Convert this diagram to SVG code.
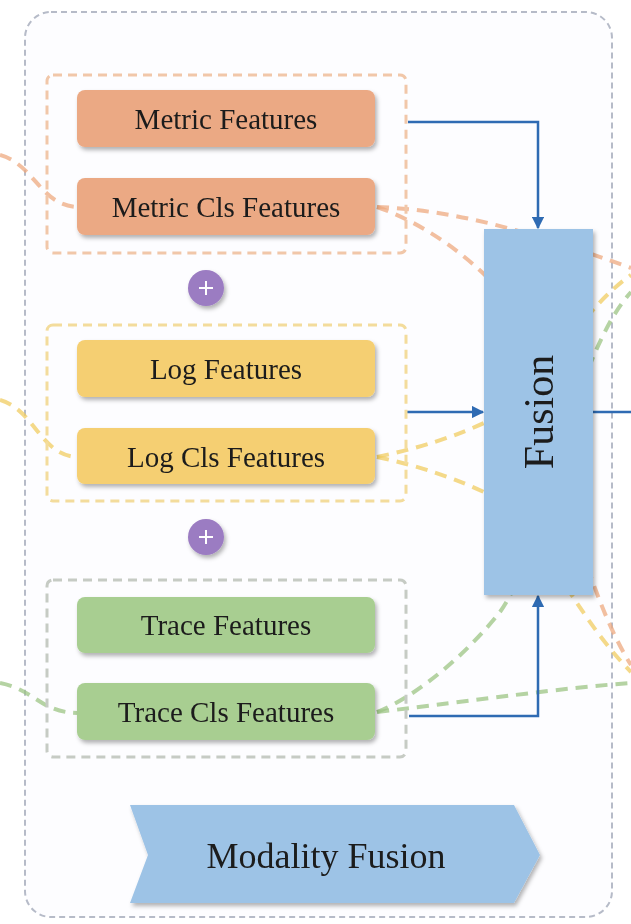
<svg xmlns="http://www.w3.org/2000/svg" width="631" height="924" viewBox="0 0 631 924">
<style>
.lbl{font-family:"Liberation Serif","Times New Roman",serif;fill:#1b1b1b;text-anchor:middle;dominant-baseline:central}
.node{filter:url(#sh)}
.blue{fill:none;stroke:#2F6BB3;stroke-width:2.5}
.dl{fill:none;stroke-width:4;stroke-dasharray:12 8;stroke-opacity:0.75}
.or{stroke:#EDAA80}
.ye{stroke:#F0CC62}
.gr{stroke:#9CC484}
.grp{fill:none;stroke-width:3;stroke-dasharray:9 6}
</style>
<defs>
<filter id="sh" x="-10%" y="-10%" width="130%" height="140%">
<feDropShadow dx="2" dy="3" stdDeviation="2" flood-color="#000" flood-opacity="0.3"/>
</filter>
<marker id="ah" viewBox="0 0 10 10" refX="9" refY="5" markerWidth="5" markerHeight="5" orient="auto">
<path d="M0,0 L10,5 L0,10 z" fill="#2F6BB3"/>
</marker>
</defs>
<rect width="631" height="924" fill="#fff"/>
<g id="outer">
<rect x="25" y="12" width="587" height="905" rx="26" fill="#fdfdff" stroke="#b6bbc8" stroke-width="2" stroke-dasharray="6 4"/>
</g>
<g id="connectors">
<path class="dl or" d="M0,155 C35,165 40,205 77,207"/>
<path class="dl ye" d="M0,400 C35,410 40,455 77,457"/>
<path class="dl gr" d="M0,683 C35,690 40,712 77,713"/>
<path class="dl or" d="M377,207 C460,210 540,235 631,268"/>
<path class="dl or" d="M377,207 C420,222 460,250 490,280 C540,340 565,560 631,665"/>
<path class="dl ye" d="M377,457 C420,448 460,435 490,420 C540,390 580,310 631,275"/>
<path class="dl ye" d="M377,457 C420,466 460,480 490,495 C540,525 570,610 631,672"/>
<path class="dl gr" d="M377,712 C420,695 470,650 500,612 C545,550 570,360 631,292"/>
<path class="dl gr" d="M377,712 C480,700 560,688 631,683"/>
<path class="blue" d="M408,122 H538 V228" marker-end="url(#ah)"/>
<path class="blue" d="M407,412 H483" marker-end="url(#ah)"/>
<path class="blue" d="M593,412 H631"/>
<path class="blue" d="M409,716 H538 V596" marker-end="url(#ah)"/>
</g>
<g id="metric-group">
<rect class="grp" x="47" y="75" width="359" height="178" rx="6" stroke="#F1C7A9"/>
</g>
<g id="log-group">
<rect class="grp" x="47" y="325" width="359" height="176" rx="6" stroke="#F3DC9C"/>
</g>
<g id="trace-group">
<rect class="grp" x="47" y="580" width="359" height="177" rx="6" stroke="#C6CBC4"/>
</g>
<g id="metric-features" class="node">
<rect x="77" y="90" width="298" height="57" rx="8" fill="#EBA984"/>
<text class="lbl" x="226" y="119" font-size="29">Metric Features</text>
</g>
<g id="metric-cls-features" class="node">
<rect x="77" y="178" width="298" height="57" rx="8" fill="#EBA984"/>
<text class="lbl" x="226" y="207" font-size="29">Metric Cls Features</text>
</g>
<g id="plus1" class="node">
<circle cx="206" cy="288" r="18" fill="#9B7BC2"/>
<path d="M199,288 H213 M206,281 V295" stroke="#fff" stroke-width="2"/>
</g>
<g id="log-features" class="node">
<rect x="77" y="340" width="298" height="57" rx="8" fill="#F5CF72"/>
<text class="lbl" x="226" y="369" font-size="29">Log Features</text>
</g>
<g id="log-cls-features" class="node">
<rect x="77" y="428" width="298" height="56" rx="8" fill="#F5CF72"/>
<text class="lbl" x="226" y="457" font-size="29">Log Cls Features</text>
</g>
<g id="plus2" class="node">
<circle cx="206" cy="537" r="18" fill="#9B7BC2"/>
<path d="M199,537 H213 M206,530 V544" stroke="#fff" stroke-width="2"/>
</g>
<g id="trace-features" class="node">
<rect x="77" y="597" width="298" height="56" rx="8" fill="#A8CE91"/>
<text class="lbl" x="226" y="625" font-size="29">Trace Features</text>
</g>
<g id="trace-cls-features" class="node">
<rect x="77" y="683" width="298" height="57" rx="8" fill="#A8CE91"/>
<text class="lbl" x="226" y="712" font-size="29">Trace Cls Features</text>
</g>
<g id="fusion" class="node">
<rect x="484" y="229" width="109" height="366" fill="#9DC3E6"/>
<text class="lbl" x="0" y="0" font-size="42" transform="translate(539,412) rotate(-90)">Fusion</text>
</g>
<g id="modality-fusion" class="node">
<path d="M130,805 H514 L540,855 L514,903 H130 L148,855 Z" fill="#9DC3E6"/>
<text class="lbl" x="326" y="856" font-size="36">Modality Fusion</text>
</g>
</svg>
